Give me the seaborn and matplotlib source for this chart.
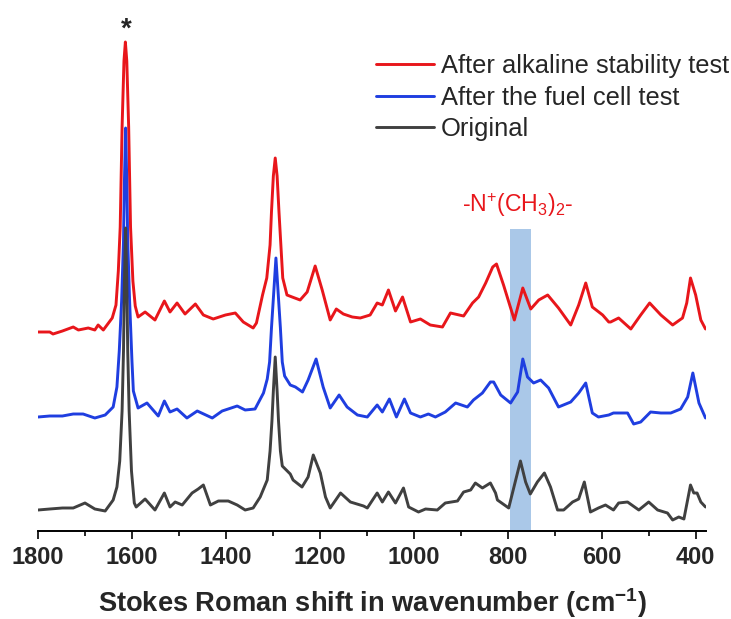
import numpy as np
import pandas as pd
import matplotlib
matplotlib.use("Agg")
import matplotlib.pyplot as plt
import seaborn as sns

# ---------------- data (arbitrary intensity units, stacked) -----------
labels = ["After alkaline stability test", "After the fuel cell test", "Original"]
colors = ["#e8161b", "#1f3ee0", "#404040"]

wn_alkaline = [1800, 1775, 1768, 1748, 1725, 1714, 1693, 1679, 1672, 1661, 1642, 1634, 1629, 1625,
               1621, 1617, 1614, 1611, 1607, 1603, 1598, 1593, 1587, 1572, 1551, 1531, 1519, 1504,
               1487, 1465, 1448, 1427, 1401, 1380, 1363, 1342, 1335, 1322, 1313, 1306, 1303, 1299,
               1295, 1291, 1287, 1283, 1279, 1270, 1259, 1242, 1227, 1210, 1195, 1178, 1165, 1150,
               1131, 1114, 1093, 1078, 1067, 1054, 1039, 1024, 1007, 986, 965, 939, 922, 894, 875,
               862, 847, 832, 824, 809, 786, 768, 751, 734, 715, 692, 666, 649, 634, 620, 598, 585,
               581, 564, 538, 517, 498, 474, 449, 428, 419, 411, 400, 389, 379]
int_alkaline = [199, 199, 197, 200, 204, 201, 203, 201, 206, 201, 213, 226, 260, 304,
                404, 470, 489, 470, 404, 304, 250, 225, 214, 219, 211, 230, 219, 228,
                217, 227, 216, 212, 216, 218, 209, 203, 208, 236, 253, 286, 319, 355,
                373, 355, 319, 286, 253, 236, 234, 231, 239, 265, 241, 211, 222, 217,
                214, 213, 216, 228, 226, 241, 220, 234, 209, 212, 206, 204, 218, 215, 228,
                234, 248, 264, 267, 246, 211, 243, 222, 231, 236, 223, 206, 226, 248, 224, 216, 209,
                209, 213, 202, 216, 228, 216, 206, 213, 228, 253, 236, 211, 202]

wn_fuelcell = [1800, 1775, 1748, 1725, 1704, 1679, 1657, 1640, 1632, 1627, 1622, 1618, 1616, 1613.5,
               1611, 1609, 1605, 1600, 1597, 1587, 1568, 1544, 1531, 1519, 1504, 1483, 1461, 1429,
               1408, 1376, 1359, 1338, 1320, 1312, 1307, 1303, 1298.5, 1293.5, 1288.5, 1284, 1280,
               1275, 1263, 1252, 1237, 1225, 1208, 1193, 1178, 1159, 1142, 1120, 1099, 1078, 1067,
               1052, 1037, 1020, 1007, 986, 969, 954, 933, 911, 886, 873, 854, 837, 830, 815, 794,
               779, 768, 758, 745, 730, 713, 692, 666, 649, 634, 620, 607, 585, 575, 545, 532, 517,
               496, 474, 453, 432, 417, 406, 393, 379]
int_fuelcell = [114, 115, 115, 117, 117, 113, 116, 124, 144, 180, 230, 290, 350, 403,
                350, 290, 230, 170, 140, 123, 128, 115, 130, 119, 122, 113, 120, 113,
                120, 125, 121, 122, 138, 152, 169, 203, 236, 273, 236, 203, 169,
                155, 146, 144, 139, 151, 172, 144, 123, 136, 124, 116, 114, 126, 119,
                132, 114, 132, 118, 114, 117, 114, 119, 128, 124, 131, 138, 149, 149, 136, 128,
                139, 172, 154, 148, 151, 143, 124, 129, 138, 148, 118, 114, 116, 118, 118, 107, 109,
                119, 118, 118, 122, 134, 158, 128, 113]

wn_original = [1800, 1775, 1748, 1725, 1700, 1679, 1657, 1640, 1632, 1626, 1621, 1618, 1616, 1613.5,
               1611, 1609, 1606, 1601, 1595, 1591, 1572, 1551, 1531, 1519, 1508, 1493, 1472, 1459,
               1448, 1433, 1416, 1395, 1376, 1359, 1342, 1327, 1312, 1306, 1302, 1299, 1295, 1291,
               1288, 1284, 1280, 1263, 1257, 1238, 1225, 1214, 1199, 1188, 1178, 1156, 1135, 1107,
               1099, 1078, 1067, 1054, 1039, 1022, 1011, 990, 975, 950, 933, 907, 894, 879, 869,
               854, 837, 826, 822, 798, 773, 762, 752, 737, 722, 709, 694, 681, 662, 649, 637, 624,
               607, 592, 575, 564, 545, 521, 500, 481, 460, 449, 436, 425, 411, 404, 397, 389, 379]
int_original = [21, 22, 23, 23, 28, 22, 20, 31, 44, 70, 120, 180, 250, 303,
                250, 180, 120, 60, 28, 24, 32, 21, 38, 24, 29, 26, 38, 42,
                46, 26, 30, 30, 26, 21, 23, 34, 51, 80, 110, 140, 174, 140,
                110, 80, 65, 57, 51, 44, 54, 76, 58, 34, 23, 38, 29, 25,
                23, 38, 29, 39, 28, 43, 24, 19, 22, 21, 28, 30, 39, 41, 48,
                43, 48, 38, 31, 23, 70, 49, 37, 49, 58, 44, 21, 21, 29, 32, 49, 19,
                23, 26, 21, 28, 29, 21, 29, 21, 18, 11, 14, 12, 46, 38, 38, 29, 24]

x_ticks = [1800, 1600, 1400, 1200, 1000, 800, 600, 400]
band = (795, 751)
star_pos = 1612
group_label = "-N$\\mathregular{^{+}}$(CH$\\mathregular{_{3}}$)$\\mathregular{_{2}}$-"
group_label_pos = 779
x_label = "Stokes Roman shift in wavenumber (cm$\\mathregular{^{-1}}$)"

# ---------------- figure ----------------
sns.set_style("white")
plt.rcParams["font.family"] = ["Liberation Sans", "DejaVu Sans"]
plt.rcParams["mathtext.default"] = "regular"
plt.rcParams["axes.unicode_minus"] = False

W, H = 731, 619
fig = plt.figure(figsize=(W / 100, H / 100), dpi=100)
ax = fig.add_axes([38 / W, (H - 531) / H, 668 / W, 521 / H])

ax.axvspan(band[0], band[1], ymin=0, ymax=302 / 521, color="#aac8e8", lw=0, zorder=0)

series = [(wn_alkaline, int_alkaline), (wn_fuelcell, int_fuelcell), (wn_original, int_original)]
for (xs, ys), lab, c in zip(series, labels, colors):
    df = pd.DataFrame({"wn": xs, "I": ys})
    sns.lineplot(data=df, x="wn", y="I", color=c, lw=2.1, label=lab, ax=ax, zorder=2,
                 solid_joinstyle="round", solid_capstyle="round")

ax.set_xlim(1800, 378)
ax.set_ylim(0, 521)
ax.set_xticks(x_ticks)
ax.set_xticks(np.arange(1700, 378, -200), minor=True)
ax.set_yticks([])
for s in ["left", "right", "top"]:
    ax.spines[s].set_visible(False)
ax.spines["bottom"].set_linewidth(1.4)
ax.spines["bottom"].set_color("black")
ax.tick_params(axis="x", which="major", direction="out", length=6, width=1.2, color="black",
               labelsize=17, pad=5, bottom=True)
ax.tick_params(axis="x", which="minor", direction="out", length=3.5, width=1.2, color="black",
               bottom=True)
for t in ax.get_xticklabels():
    t.set_fontweight("bold")
ax.set_ylabel("")
ax.set_xlabel(x_label, fontsize=19.6, fontweight="bold", labelpad=12)

ax.text(star_pos, 494, "*", fontsize=20, fontweight="bold", ha="center", va="baseline")
ax.text(group_label_pos, 326, group_label, fontsize=16.6, color="#e8161b", ha="center", va="center")

leg = ax.legend(loc="upper left", bbox_to_anchor=(376 / W, 1 - 54 / H), bbox_transform=fig.transFigure,
                frameon=False, fontsize=18.4, handlelength=2.27, handletextpad=0.27,
                labelspacing=0.3, borderpad=0, borderaxespad=0)
for h in leg.get_lines():
    h.set_linewidth(2.1)

fig.savefig("out.png", dpi=100)
